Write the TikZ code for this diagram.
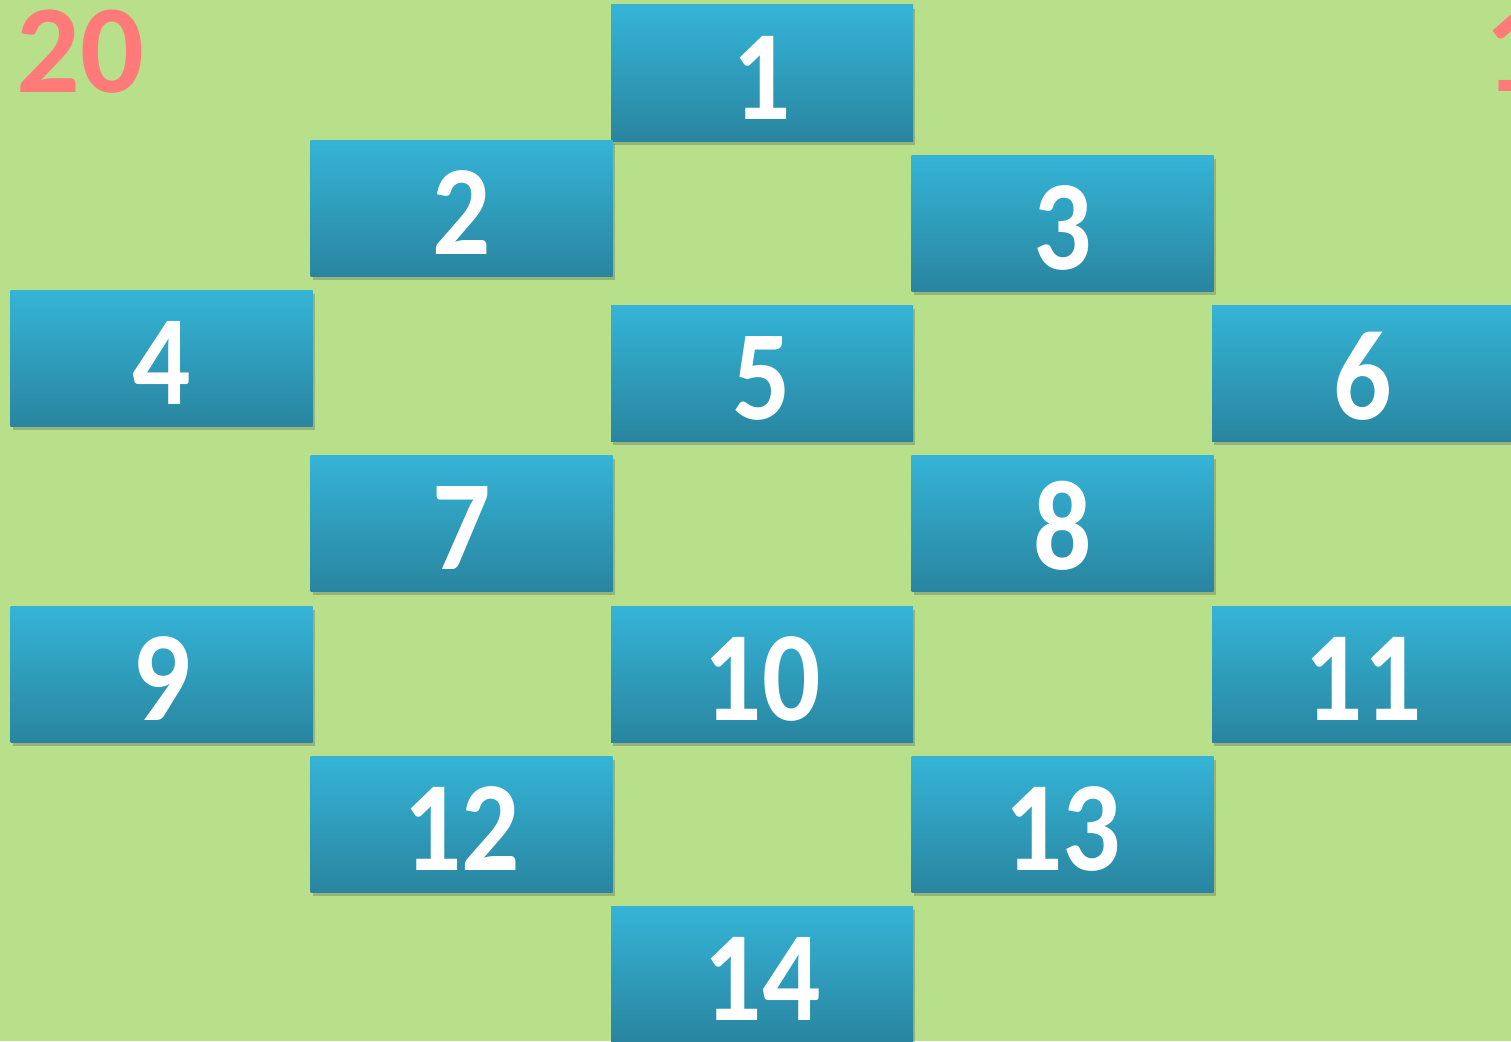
\documentclass[tikz,border=0pt]{standalone}
\usepackage{fontspec}
\setmainfont{Carlito}
\newfontfamily\tilefont[FakeStretch=0.9]{Carlito}
\usetikzlibrary{shadows}
\definecolor{bggreen}{HTML}{B8E08A}
\definecolor{tiletop}{HTML}{35B4D7}
\definecolor{tilebot}{HTML}{2985A0}
\definecolor{scorered}{HTML}{FF7A78}
\begin{document}
\begin{tikzpicture}[x=1pt,y=-1pt,
		tile/.style={rectangle, minimum width=302pt, minimum height=136pt, inner sep=0pt,
			top color=tiletop, bottom color=tilebot,
			drop shadow={shadow xshift=2pt, shadow yshift=-4pt, opacity=0.3, fill=black!70},
			text=white, text height=92pt, text depth=0pt,
			font=\tilefont\fontsize{128}{128}\selectfont\bfseries},
		score/.style={inner sep=0pt, text=scorered, font=\fontsize{126}{126}\selectfont\bfseries}]
		% Background
		\useasboundingbox (0,0) rectangle (1511,1041);
		\clip (0,0) rectangle (1511,1041);
		\fill[bggreen] (0,0) rectangle (1511,1041);
		
		% Scores
		\node[score, anchor=base west] (scoreL) at (16,92) {20};
		\node[score, anchor=base west] (scoreR) at (1484,91) {1};
		
		% Tiles
		\foreach \n/\x/\y in {1/762/73, 2/461.5/208, 3/1062.5/223, 4/161.5/358,
			5/762/373, 6/1363/373, 7/461.5/523, 8/1062.5/523, 9/161.5/674,
			10/762/674, 11/1363/674, 12/461.5/824, 13/1062.5/824, 14/762/974}
			\node[tile] (tile\n) at (\x,\y) {\n};
	\end{tikzpicture}
\end{document}
